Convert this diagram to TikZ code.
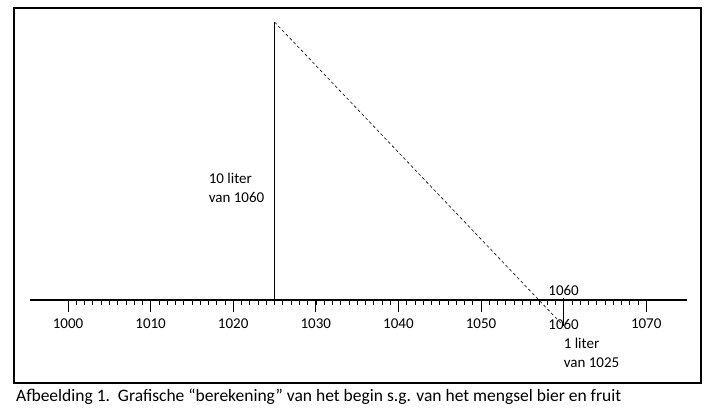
\documentclass[tikz,border=0pt]{standalone}
\usepackage{fontspec}
\setmainfont{Carlito}
\usetikzlibrary{positioning}

\begin{document}
\begin{tikzpicture}[x=1pt, y=-1pt,
  lbl/.style={font=\fontsize{15}{19}\selectfont, inner sep=0pt},
  axisline/.style={line width=2.5pt},
  thinline/.style={line width=0.9pt}]
\useasboundingbox (0,0) rectangle (707,410);
\draw[line width=1.3pt] (14,8) rectangle (701,383);
\coordinate (fsw) at (14,383);
% axis
\coordinate (L) at (30,300);
\coordinate (R) at (687,300);
\draw[axisline] (L) -- (R);
\foreach \v in {0,...,70} {
  \draw[line width=0.6pt] ({68+\v*8.26},300) -- ++(0,5);
}
\foreach \v in {0,10,...,70} {
  \pgfmathtruncatemacro{\val}{1000+\v}
  \coordinate (t\val) at ({68+\v*8.26},312);
  \draw[thinline] ({68+\v*8.26},300) -- (t\val);
  \node[lbl, below=7pt of t\val] (n\val) {\val};
}
% the two volumes
\coordinate (top) at (274.5,22);
\coordinate (base) at (274.5,300);
\coordinate (bot) at (563.6,326);
\coordinate (ax) at (563.6,298);
\draw[thinline] (base) -- (top);
\draw[thinline] (ax) -- (bot);
\draw[line width=0.6pt, dash pattern=on 3pt off 2.5pt] (top) -- (bot);
\coordinate (mid) at (274.5,188);
\node[lbl, align=left, left=10pt of mid] (big) {10 liter\\van 1060};
\node[lbl, above=2pt of ax] (mark) {1060};
\node[lbl, align=left, below right=12pt and 0pt of bot] (small) {1 liter\\van 1025};
% caption
\node[font=\fontsize{17.5}{20}\selectfont, inner sep=0pt, below right=6pt and 2pt of fsw] (cap)
  {Afbeelding 1.\ \ Grafische “berekening” van het begin s.g. van het mengsel bier en fruit};
\end{tikzpicture}
\end{document}
